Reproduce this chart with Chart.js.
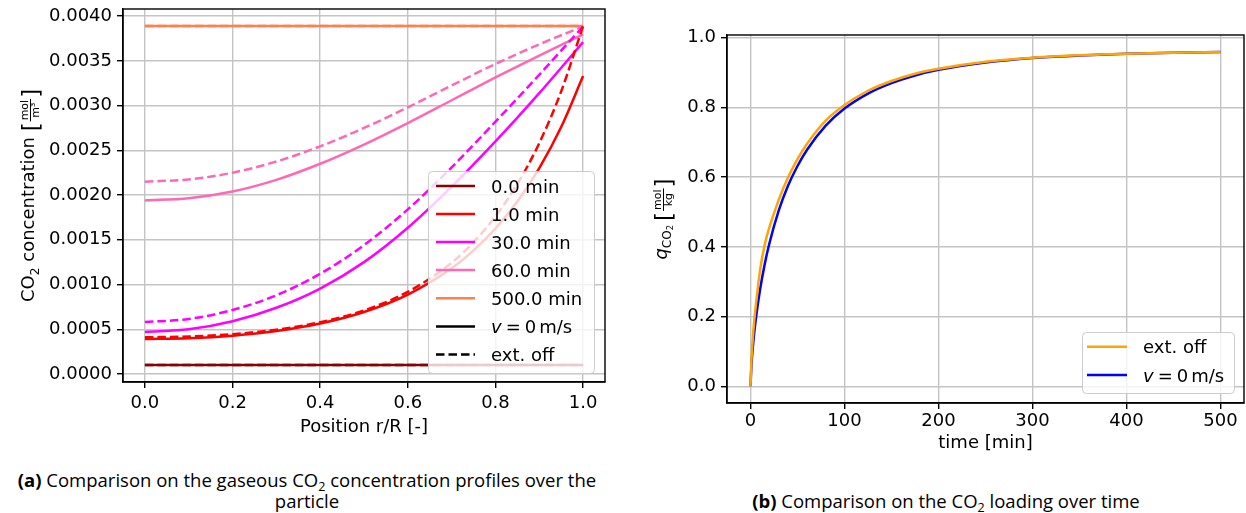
<!DOCTYPE html>
<html><head><meta charset="utf-8">
<script src="https://cdn.jsdelivr.net/npm/chart.js@4.4.1/dist/chart.umd.min.js"></script>
<style>
html,body{margin:0;padding:0;background:#fff;width:1246px;height:513px;overflow:hidden;position:relative;}
#c1{position:absolute;left:0;top:0;width:620px;height:460px;}
#c2{position:absolute;left:640px;top:0;width:606px;height:460px;}
.cap{position:absolute;font-family:'Open Sans';font-size:18.5px;color:#000;text-align:center;line-height:21px;white-space:nowrap;}
.cap sub{font-size:12.5px;line-height:0;vertical-align:-4px;}
</style></head><body>
<canvas id="c1" width="620" height="460"></canvas>
<canvas id="c2" width="606" height="460"></canvas>
<div class="cap" style="left:0;top:469px;width:614px;"><b>(a)</b> Comparison on the gaseous CO<sub>2</sub> concentration profiles over the<br>particle</div>
<div class="cap" style="left:646px;top:490px;width:600px;"><b>(b)</b> Comparison on the CO<sub>2</sub> loading over time</div>
<script>
// ---------- DATA ----------
const positions     = [0, 0.1, 0.2, 0.3, 0.4, 0.5, 0.6, 0.7, 0.8, 0.9, 1.0];
const positionsFine = [0, 0.1, 0.2, 0.3, 0.4, 0.5, 0.6, 0.7, 0.75, 0.8, 0.85, 0.9, 0.95, 1.0];
const conc0min    = [0.0001,0.0001,0.0001,0.0001,0.0001,0.0001,0.0001,0.0001,0.0001,0.0001,0.0001];
const conc1min    = [0.00039,0.000399,0.000427,0.000479,0.000563,0.000692,0.000887,0.001181,0.001381,0.001626,0.001929,0.002302,0.002761,0.00333];
const conc1minOff = [0.00041,0.000418,0.000445,0.000495,0.000578,0.00071,0.000918,0.001243,0.001474,0.001762,0.002124,0.002581,0.003159,0.00389];
const conc30min   = [0.00047,0.0005,0.00059,0.00074,0.000955,0.00125,0.001635,0.002095,0.0026,0.00314,0.00371];
const conc30minOff= [0.00058,0.000615,0.000715,0.00088,0.00112,0.00144,0.00184,0.00231,0.00282,0.003345,0.003885];
const conc60min   = [0.00194,0.001965,0.00204,0.00217,0.00235,0.002565,0.002805,0.00306,0.003315,0.00356,0.003795];
const conc60minOff= [0.00215,0.002175,0.00225,0.002375,0.002545,0.00275,0.00298,0.003225,0.003465,0.003685,0.003885];
const conc500min  = [0.00389,0.00389,0.00389,0.00389,0.00389,0.00389,0.00389,0.00389,0.00389,0.00389,0.00389];
const posTicks    = [0, 0.2, 0.4, 0.6, 0.8, 1.0];
const concTicks   = [0, 0.0005, 0.001, 0.0015, 0.002, 0.0025, 0.003, 0.0035, 0.004];
const leftLegend  = ['0.0 min', '1.0 min', '30.0 min', '60.0 min', '500.0 min', 'v = 0 m/s', 'ext. off'];

const times   = [0,1,2,4,6,10,15,20,30,40,50,60,80,100,125,150,175,200,250,300,350,400,450,500];
const qExtOff = [0,0.075,0.12,0.19,0.24,0.33,0.405,0.455,0.535,0.60,0.652,0.695,0.762,0.807,0.848,0.876,0.897,0.911,0.931,0.943,0.95,0.954,0.957,0.959];
const qV0     = [0,0.06,0.097,0.154,0.20,0.275,0.349,0.409,0.504,0.576,0.632,0.678,0.748,0.797,0.84,0.87,0.892,0.908,0.929,0.942,0.949,0.954,0.957,0.959];
const timeTicks = [0,100,200,300,400,500];
const qTicks    = [0,0.2,0.4,0.6,0.8,1.0];
const rightLegend = ['ext. off', 'v = 0 m/s'];

// ---------- STYLE ----------
const FONT = "'DejaVu Sans'";
const LW = 2.5, DASH = [8.5, 4];
const GRID = '#c4c4c4';
const COL = {m0:'#8B0000', m1:'#FF0000', m30:'#FF00FF', m60:'#FF69B4', m500:'#FF7F50', ext:'#FFA500', v0:'#0000FF'};

function pts(xs, ys){ return xs.map((x,i)=>({x:x, y:ys[i]})); }
function ds(label, xs, ys, color, dashed){
  return {label, data:pts(xs,ys), borderColor:color, backgroundColor:color, borderWidth:LW,
    borderDash: dashed?DASH:[], pointRadius:0, fill:false, cubicInterpolationMode:'monotone'};
}

function measureItems(ctx, items){
  let w=0;
  items.forEach(it=>{
    if(it.frac){
      ctx.font = it.font; const a=ctx.measureText(it.frac[0]).width, b=ctx.measureText(it.frac[1]).width;
      ctx.font = it.brFont; const bw = ctx.measureText('[').width;
      it._w = bw*2 + Math.max(a,b) + 4; it._bw=bw; it._fw=Math.max(a,b);
    } else if(it.gap){ it._w = it.gap; }
    else { ctx.font = it.font; it._w = ctx.measureText(it.t).width; }
    w += it._w;
  });
  return w;
}
function drawItems(ctx, items, x0, base){
  let x=x0;
  ctx.fillStyle='#000'; ctx.textBaseline='alphabetic'; ctx.textAlign='left';
  items.forEach(it=>{
    if(it.frac){
      ctx.font = it.brFont; ctx.fillText('[', x, base+it.brDy);
      const fx = x + it._bw + 2;
      ctx.font = it.font;
      const a=ctx.measureText(it.frac[0]).width, b=ctx.measureText(it.frac[1]).width;
      ctx.fillText(it.frac[0], fx + (it._fw-a)/2, base+it.numDy);
      ctx.fillText(it.frac[1], fx + (it._fw-b)/2, base+it.denDy);
      ctx.fillRect(fx-1, base+it.lineDy-0.5, it._fw+2, 1);
      ctx.font = it.brFont; ctx.fillText(']', fx + it._fw + 2, base+it.brDy);
    } else if(!it.gap){
      ctx.font = it.font; ctx.fillText(it.t, x, base+(it.dy||0));
    }
    x += it._w;
  });
}
function drawVertical(ctx, items, baseX, centerY){
  ctx.save();
  const w = measureItems(ctx, items);
  ctx.translate(baseX, centerY + w/2);
  ctx.rotate(-Math.PI/2);
  drawItems(ctx, items, 0, 0);
  ctx.restore();
}
function vItems(){
  return [{t:'v', font:"oblique 18px "+FONT},{gap:4},{t:'=', font:"18px "+FONT},{gap:4},{t:'0', font:"18px "+FONT},{gap:3},{t:'m/s', font:"18px "+FONT}];
}
function drawLegend(ctx, box, labels, styles, rowY, lx0, lx1, tx){
  ctx.save();
  ctx.beginPath();
  ctx.roundRect(box[0]+0.5, box[1]+0.5, box[2]-box[0], box[3]-box[1], 4);
  ctx.fillStyle='rgba(255,255,255,0.8)'; ctx.fill();
  ctx.strokeStyle='#cccccc'; ctx.lineWidth=1; ctx.stroke();
  labels.forEach((lab,i)=>{
    const y = rowY[i], s = styles[i];
    ctx.beginPath(); ctx.strokeStyle=s.c; ctx.lineWidth=LW; ctx.setLineDash(s.d?DASH:[]);
    ctx.moveTo(lx0,y); ctx.lineTo(lx1,y); ctx.stroke(); ctx.setLineDash([]);
    if(lab.indexOf('v =')===0){ const it=vItems(); measureItems(ctx,it); drawItems(ctx,it,tx,y+6.5); }
    else { ctx.fillStyle='#000'; ctx.font="18px "+FONT; ctx.textBaseline='alphabetic'; ctx.fillText(lab, tx, y+6.5); }
  });
  ctx.restore();
}
function frame(ctx, a){
  ctx.save(); ctx.strokeStyle='#000'; ctx.lineWidth=1.4;
  ctx.strokeRect(a.left, a.top, a.right-a.left, a.bottom-a.top); ctx.restore();
}

function scaleOpts(min, max, ticks, fmt, fit, isX, pad){
  return {
    type:'linear', min, max,
    afterBuildTicks: s => { s.ticks = ticks.map(v=>({value:v})); },
    afterFit: s => {
      if(isX){ s.height = fit; s.paddingLeft = 0; s.paddingRight = 0; }
      else { s.width = fit; s.paddingTop = 0; s.paddingBottom = 0; }
    },
    grid:{color:GRID, lineWidth:1.4, tickColor:'#000', tickLength:6, drawTicks:true},
    border:{display:true, color:'#000', width:1.4},
    ticks:{color:'#000', font:{family:'DejaVu Sans', size:18}, padding:pad, maxRotation:0, autoSkip:false,
      callback: v => fmt(v)}
  };
}

Chart.defaults.font.family = 'DejaVu Sans';

// ---------- LEFT CHART ----------
new Chart(document.getElementById('c1'), {
  type:'line',
  data:{datasets:[
    ds('0.0 min', positions, conc0min, COL.m0, false),
    ds('0.0 min ext', positions, conc0min, COL.m0, true),
    ds('1.0 min', positionsFine, conc1min, COL.m1, false),
    ds('1.0 min ext', positionsFine, conc1minOff, COL.m1, true),
    ds('30.0 min', positions, conc30min, COL.m30, false),
    ds('30.0 min ext', positions, conc30minOff, COL.m30, true),
    ds('60.0 min', positions, conc60min, COL.m60, false),
    ds('60.0 min ext', positions, conc60minOff, COL.m60, true),
    ds('500.0 min', positions, conc500min, COL.m500, false),
    ds('500.0 min ext', positions, conc500min, COL.m500, true)
  ]},
  options:{
    responsive:false, animation:false, devicePixelRatio:1,
    layout:{padding:{left:0, right:15, top:9, bottom:0}},
    plugins:{legend:{display:false}, tooltip:{enabled:false}},
    scales:{
      x: scaleOpts(-0.05, 1.05, posTicks, v=>v.toFixed(1), 78, true, 5),
      y: scaleOpts(-0.00009, 0.00408, concTicks, v=>v.toFixed(4), 123, false, 5)
    }
  },
  plugins:[{id:'deco', afterDraw(chart){
    const ctx=chart.ctx, a=chart.chartArea;
    frame(ctx,a);
    drawLegend(ctx,[428,171,594,373], leftLegend,
      [{c:COL.m0},{c:COL.m1},{c:COL.m30},{c:COL.m60},{c:COL.m500},{c:'#000'},{c:'#000',d:true}],
      [186,214,242,270,298.3,326.5,354.5], 436, 475, 491);
    ctx.save(); ctx.fillStyle='#000'; ctx.font="18px "+FONT; ctx.textAlign='center'; ctx.textBaseline='alphabetic';
    ctx.fillText('Position r/R [-]', (a.left+a.right)/2, 431.5); ctx.restore();
    drawVertical(ctx, [
      {t:'CO', font:"18px "+FONT},{t:'2', font:"12.5px "+FONT, dy:4.5},{t:' concentration ', font:"18px "+FONT},
      {frac:['mol','m³'], font:"11px "+FONT, brFont:"23px "+FONT, brDy:4.5, numDy:-6.5, denDy:4.5, lineDy:-3.5}
    ], 34, (a.top+a.bottom)/2);
  }}]
});

// ---------- RIGHT CHART ----------
new Chart(document.getElementById('c2'), {
  type:'line',
  data:{datasets:[
    ds('ext. off', times, qExtOff, COL.ext, false),
    ds('v = 0 m/s', times, qV0, COL.v0, false)
  ]},
  options:{
    responsive:false, animation:false, devicePixelRatio:1,
    layout:{padding:{left:0, right:2, top:35, bottom:0}},
    plugins:{legend:{display:false}, tooltip:{enabled:false}},
    scales:{
      x: scaleOpts(-25, 525, timeTicks, v=>String(v), 57, true, 2),
      y: scaleOpts(-0.048, 1.008, qTicks, v=>v.toFixed(1), 87, false, 5)
    }
  },
  plugins:[{id:'deco2', afterDraw(chart){
    const ctx=chart.ctx, a=chart.chartArea;
    frame(ctx,a);
    drawLegend(ctx,[1082-640,332,1234-640,393], rightLegend,
      [{c:COL.ext},{c:COL.v0}], [346.7,375], 1087-640, 1127-640, 1143-640);
    ctx.save(); ctx.fillStyle='#000'; ctx.font="18px "+FONT; ctx.textAlign='center'; ctx.textBaseline='alphabetic';
    ctx.fillText('time [min]', (a.left+a.right)/2, 448); ctx.restore();
    drawVertical(ctx, [
      {t:'q', font:"oblique 18px "+FONT},{t:'CO', font:"12px "+FONT, dy:4},{t:'2', font:"8.5px "+FONT, dy:6},{gap:4},
      {frac:['mol','kg'], font:"11px "+FONT, brFont:"23px "+FONT, brDy:4.5, numDy:-6.5, denDy:4.5, lineDy:-3.5}
    ], 27, (a.top+a.bottom)/2);
  }}]
});
</script>
</body></html>
